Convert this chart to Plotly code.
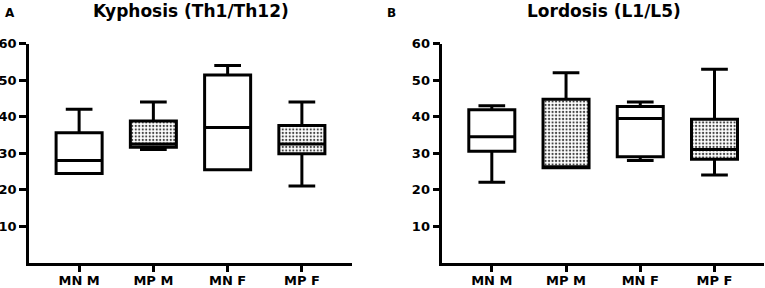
import plotly.graph_objects as go

categories = ["MN M", "MP M", "MN F", "MP F"]
patterned = ["MP M", "MP F"]

# Kyphosis (Th1/Th12)
kyp_min = [24.4, 31.0, 25.4, 21.0]
kyp_q1 = [24.4, 31.6, 25.4, 29.8]
kyp_med = [28.0, 32.5, 37.0, 32.5]
kyp_q3 = [35.6, 38.8, 51.4, 37.6]
kyp_max = [42.0, 44.0, 54.0, 44.0]

# Lordosis (L1/L5)
lor_min = [22.0, 26.0, 28.0, 24.0]
lor_q1 = [30.5, 26.0, 29.0, 28.3]
lor_med = [34.5, 26.2, 39.5, 31.0]
lor_q3 = [41.9, 44.8, 42.8, 39.3]
lor_max = [43.0, 52.0, 44.0, 53.0]

y_ticks = [10, 20, 30, 40, 50, 60]

FONT = "DejaVu Sans"
BOXW = 0.62

fig = go.Figure()


def add_panel(mins, q1s, meds, q3s, maxs, xa, ya):
    px, pb, ph = [], [], []
    for c, a, b in zip(categories, q1s, q3s):
        if c in patterned:
            px.append(c)
            pb.append(a)
            ph.append(b - a)
    fig.add_trace(go.Bar(
        x=px, y=ph, base=pb, width=BOXW, xaxis=xa, yaxis=ya,
        marker=dict(color="white", line=dict(width=0),
                    pattern=dict(shape=".", fgcolor="#444444", bgcolor="white",
                                 size=3.5, solidity=0.32)),
        showlegend=False, hoverinfo="skip"))
    fig.add_trace(go.Box(
        x=categories, q1=q1s, median=meds, q3=q3s,
        lowerfence=mins, upperfence=maxs,
        width=BOXW, whiskerwidth=0.58, xaxis=xa, yaxis=ya,
        fillcolor="rgba(0,0,0,0)", line=dict(color="black", width=3),
        boxpoints=False, showlegend=False))


add_panel(kyp_min, kyp_q1, kyp_med, kyp_q3, kyp_max, "x", "y")
add_panel(lor_min, lor_q1, lor_med, lor_q3, lor_max, "x2", "y2")

ydom = [(288 - 262.5) / 288, (288 - 43.7) / 288]
tickfont = dict(family=FONT, size=13, color="black", weight="bold")

common_x = dict(type="category", categoryorder="array", categoryarray=categories,
                showline=True, linecolor="black", linewidth=2.5,
                ticks="outside", ticklen=7, tickwidth=2.5, tickcolor="black",
                tickfont=tickfont, showgrid=False, zeroline=False,
                ticklabelstandoff=-3,
                automargin=False, range=[-0.675, 3.675])
common_y = dict(range=[0, 60], tickvals=y_ticks, showline=True, linecolor="black",
                linewidth=2.5, ticks="outside", ticklen=7, tickwidth=2.5,
                tickcolor="black", tickfont=tickfont, showgrid=False,
                zeroline=False, automargin=False, domain=ydom)

fig.update_layout(
    template="none",
    width=765, height=288,
    margin=dict(l=0, r=0, t=0, b=0, pad=0),
    paper_bgcolor="white", plot_bgcolor="white",
    barmode="overlay", boxmode="overlay",
    xaxis=dict(common_x, domain=[29 / 765, 352 / 765], anchor="y"),
    yaxis=dict(common_y, anchor="x"),
    xaxis2=dict(common_x, domain=[442.3 / 765, 764 / 765], anchor="y2",
                range=[-0.667, 3.667]),
    yaxis2=dict(common_y, anchor="x2"),
    annotations=[
        dict(text="Kyphosis (Th1/Th12)", x=191 / 765, y=(288 - 10.5) / 288,
             xref="paper", yref="paper", showarrow=False, xanchor="center",
             yanchor="middle", font=dict(family=FONT, size=17, color="black", weight="bold")),
        dict(text="Lordosis (L1/L5)", x=603.5 / 765, y=(288 - 10.5) / 288,
             xref="paper", yref="paper", showarrow=False, xanchor="center",
             yanchor="middle", font=dict(family=FONT, size=17, color="black", weight="bold")),
        dict(text="A", x=9.5 / 765, y=(288 - 13.3) / 288, xref="paper", yref="paper",
             showarrow=False, xanchor="center", yanchor="middle",
             font=dict(family=FONT, size=12, color="black", weight="bold")),
        dict(text="B", x=392 / 765, y=(288 - 13) / 288, xref="paper", yref="paper",
             showarrow=False, xanchor="center", yanchor="middle",
             font=dict(family=FONT, size=12, color="black", weight="bold")),
    ],
)

fig.write_html(
    "out.html",
    config={"displayModeBar": False},
    post_script="document.body.style.margin='0';document.body.style.padding='0';"
                "document.body.style.overflow='hidden';",
)
